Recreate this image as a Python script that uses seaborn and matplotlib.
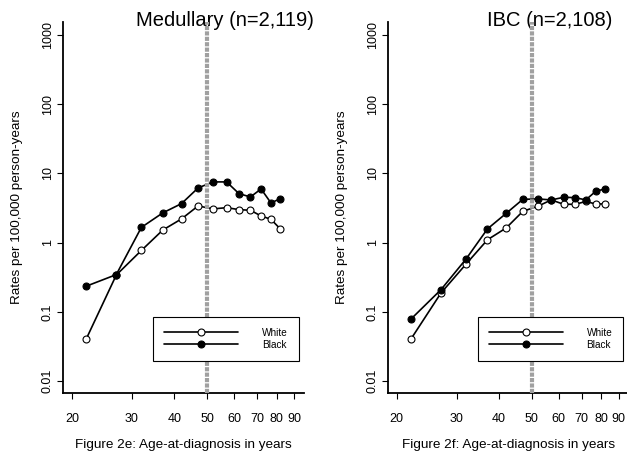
"""
Age-at-diagnosis incidence rates by race (Medullary and IBC panels), log-log axes.
"""

import numpy as np
import pandas as pd
import matplotlib
matplotlib.use("Agg")
import matplotlib.pyplot as plt
from matplotlib.ticker import NullLocator
import seaborn as sns

# ----------------------------
# Data
# ----------------------------
ages = [22, 27, 32, 37, 42, 47, 52, 57, 62, 67, 72, 77, 82]

med_white = [0.040, 0.34, 0.77, 1.52, 2.20, 3.39, 3.07, 3.20, 3.00, 2.93, 2.43, 2.17, 1.58]
med_black = [0.234, 0.345, 1.66, 2.69, 3.66, 6.17, 7.54, 7.54, 5.10, 4.57, 5.97, 3.74, 4.32]

ibc_white = [0.040, 0.187, 0.49, 1.10, 1.63, 2.83, 3.35, 4.14, 3.58, 3.58, 3.93, 3.62, 3.62]
ibc_black = [0.078, 0.209, 0.58, 1.58, 2.65, 4.22, 4.28, 4.14, 4.52, 4.47, 4.14, 5.51, 5.97]

titles = ["Medullary (n=2,119)", "IBC (n=2,108)"]
xlabels = ["Figure 2e: Age-at-diagnosis in years", "Figure 2f: Age-at-diagnosis in years"]
ylabel = "Rates per 100,000 person-years"

x_ticks = [20, 30, 40, 50, 60, 70, 80, 90]
y_ticks = [0.01, 0.1, 1, 10, 100, 1000]
y_ticklabels = ["0.01", "0.1", "1", "10", "100", "1000"]
cutoff_age = 50

# ----------------------------
# Style
# ----------------------------
sns.set_theme(style="ticks")
plt.rcParams["font.family"] = ["Liberation Sans", "DejaVu Sans"]
plt.rcParams["axes.linewidth"] = 1.3
plt.rcParams["xtick.major.width"] = 0.8
plt.rcParams["ytick.major.width"] = 0.8
plt.rcParams["xtick.color"] = "black"
plt.rcParams["ytick.color"] = "black"
plt.rcParams["text.color"] = "black"
plt.rcParams["axes.labelcolor"] = "black"
plt.rcParams["axes.edgecolor"] = "black"

fig = plt.figure(figsize=(6.27, 4.53), dpi=100)
ax_w = 241 / 627
ax_h = 371 / 453
ax_bottom = 1 - 393 / 453
axes = [
    fig.add_axes([63 / 627, ax_bottom, ax_w, ax_h]),
    fig.add_axes([387.7 / 627, ax_bottom, ax_w, ax_h]),
]

panels = [(med_white, med_black), (ibc_white, ibc_black)]

for i, ax in enumerate(axes):
    white, black = panels[i]
    df = pd.DataFrame({"age": ages, "white": white, "black": black})

    sns.lineplot(data=df, x="age", y="white", ax=ax, estimator=None,
                 color="black", linewidth=1.2, marker="o", markersize=5,
                 markerfacecolor="white", markeredgecolor="black",
                 markeredgewidth=0.8, label="White", legend=False, zorder=3)
    sns.lineplot(data=df, x="age", y="black", ax=ax, estimator=None,
                 color="black", linewidth=1.2, marker="o", markersize=5,
                 markerfacecolor="black", markeredgecolor="black",
                 markeredgewidth=0.8, label="Black", legend=False, zorder=3)

    # vertical reference line at age 50
    ax.axvline(cutoff_age, color="#a0a0a0", linewidth=3.0,
               linestyle=(0, (1.0, 0.3)), zorder=4)

    ax.set_xscale("log")
    ax.set_yscale("log")
    ax.set_xlim(18.82, 96.3)
    ax.set_ylim(10 ** -2.173, 10 ** 3.188)

    ax.set_xticks(x_ticks)
    ax.set_xticklabels([str(t) for t in x_ticks])
    ax.set_yticks(y_ticks)
    ax.set_yticklabels(y_ticklabels, rotation=90, va="center")
    ax.xaxis.set_minor_locator(NullLocator())
    ax.yaxis.set_minor_locator(NullLocator())
    ax.tick_params(axis="x", length=4.5, pad=10, labelsize=9)
    ax.tick_params(axis="y", length=4.5, pad=2, labelsize=9)

    sns.despine(ax=ax)

    ax.set_xlabel(xlabels[i], fontsize=9.7, va="center")
    ax.xaxis.set_label_coords(0.5, -0.140)
    ax.set_ylabel(ylabel, fontsize=9.7, va="center")
    ax.yaxis.set_label_coords(-0.191, 0.5)

    ax.text(0.674, 1.003, titles[i], transform=ax.transAxes,
            ha="center", va="center", fontsize=14.5, clip_on=False)

    handles = ax.get_lines()[:2]
    leg = ax.legend(handles=handles, labels=["White", "Black"],
                    loc="upper left", bbox_to_anchor=(0.373, 0.205),
                    fontsize=7.2, handlelength=7.4, handletextpad=2.4,
                    borderpad=1.1, labelspacing=0.2, borderaxespad=0,
                    numpoints=1, frameon=True, fancybox=False,
                    framealpha=1, edgecolor="black", facecolor="white")
    leg.get_frame().set_linewidth(0.8)
    leg.set_zorder(10)

fig.savefig("out.png", dpi=100)
